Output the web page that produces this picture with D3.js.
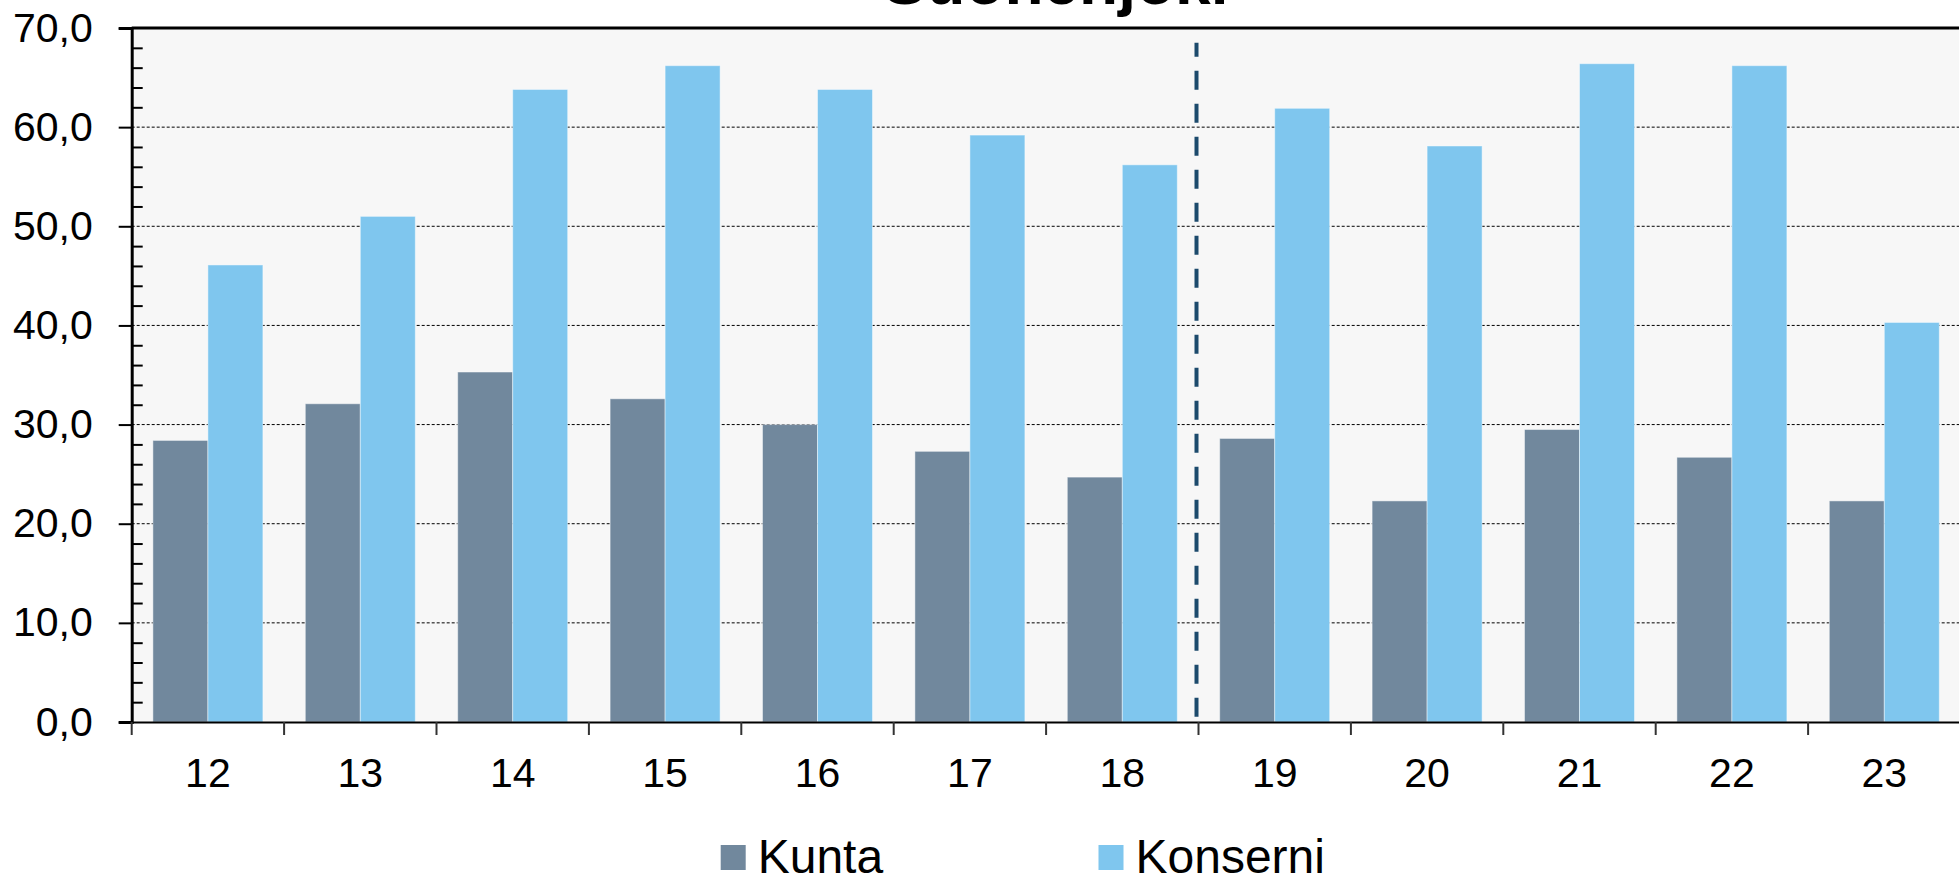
<!DOCTYPE html>
<html>
<head>
<meta charset="utf-8">
<script src="https://cdn.jsdelivr.net/npm/d3@7"></script>
<style>
  html, body { margin: 0; padding: 0; background: #ffffff; overflow: hidden; }
  svg { display: block; font-family: Arial, "Liberation Sans", sans-serif; }
</style>
</head>
<body>
<svg id="chart" width="1959" height="879"></svg>
<script>
const title = "Suonenjoki";
const categories = ["12","13","14","15","16","17","18","19","20","21","22","23"];
const seriesNames = ["Kunta", "Konserni"];
const kunta    = [28.4, 32.1, 35.3, 32.6, 30.0, 27.3, 24.7, 28.6, 22.3, 29.5, 26.7, 22.3];
const konserni = [46.1, 51.0, 63.8, 66.2, 63.8, 59.2, 56.2, 61.9, 58.1, 66.4, 66.2, 40.3];
const yTicks = [0, 10, 20, 30, 40, 50, 60, 70];
const colors = ["#71889d", "#7fc6ee"];
const dividerBefore = "19";

const svg = d3.select("#chart");
const plotLeft = 131.7, plotTop = 28, plotBottom = 722;
const band = 152.4;
const plotRight = plotLeft + band * categories.length;

const x0 = d3.scaleBand().domain(categories).range([plotLeft, plotRight]).padding(0);
const x1 = d3.scaleBand().domain(seriesNames).range([21.2, band - 21.2]).padding(0);
const y = d3.scaleLinear().domain([0, 70]).range([plotBottom, plotTop]);
const fmt = v => d3.format(".1f")(v).replace(".", ",");

// plot background
svg.append("rect").attr("x", plotLeft).attr("y", plotTop)
  .attr("width", plotRight - plotLeft).attr("height", plotBottom - plotTop).attr("fill", "#f7f7f7");

// gridlines
svg.append("g").selectAll("line").data(yTicks.filter(t => t > 0 && t < 70)).join("line")
  .attr("x1", plotLeft).attr("x2", plotRight)
  .attr("y1", d => y(d)).attr("y2", d => y(d))
  .attr("stroke", "#000").attr("stroke-width", 1).attr("stroke-dasharray", "3,2");

// bars
const rows = categories.map((c, i) => ({ cat: c, vals: [kunta[i], konserni[i]] }));
const groups = svg.append("g").selectAll("g").data(rows).join("g")
  .attr("transform", d => `translate(${x0(d.cat)},0)`);
groups.selectAll("rect").data(d => d.vals.map((v, j) => ({ key: seriesNames[j], v, j }))).join("rect")
  .attr("x", d => x1(d.key)).attr("width", x1.bandwidth())
  .attr("y", d => y(d.v)).attr("height", d => y(0) - y(d.v))
  .attr("fill", d => colors[d.j])
  .attr("stroke", "rgba(255,255,255,0.45)").attr("stroke-width", 1);

// divider dashed line
const dx = x0(dividerBefore) - 2;
svg.append("line").attr("x1", dx).attr("x2", dx)
  .attr("y1", y(68.5)).attr("y2", y(0.5))
  .attr("stroke", "#1c4a6c").attr("stroke-width", 4)
  .attr("stroke-dasharray", "19,14").attr("stroke-dashoffset", 5);

// top border
svg.append("line").attr("x1", plotLeft).attr("x2", plotRight).attr("y1", plotTop).attr("y2", plotTop)
  .attr("stroke", "#000").attr("stroke-width", 3);

// y axis major
const yAxis = svg.append("g").attr("transform", `translate(${plotLeft},0)`)
  .call(d3.axisLeft(y).tickValues(yTicks).tickSize(13).tickPadding(26).tickFormat(fmt));
yAxis.select(".domain").attr("stroke", "#000").attr("stroke-width", 3);
yAxis.selectAll(".tick line").attr("stroke", "#000").attr("stroke-width", 2);
yAxis.selectAll("text").attr("font-size", 41).attr("fill", "#000")
  .attr("font-family", "Arial, 'Liberation Sans', sans-serif");

// y axis minor (inside)
const minor = d3.range(0, 70, 2).filter(v => v % 10 !== 0);
const yMinor = svg.append("g").attr("transform", `translate(${plotLeft},0)`)
  .call(d3.axisRight(y).tickValues(minor).tickSize(11).tickFormat(""));
yMinor.select(".domain").remove();
yMinor.selectAll(".tick line").attr("stroke", "#000").attr("stroke-width", 2);

// x axis
const xAxis = svg.append("g").attr("transform", `translate(0,${plotBottom})`)
  .call(d3.axisBottom(x0).tickSize(0).tickPadding(36));
xAxis.select(".domain").attr("stroke", "#000").attr("stroke-width", 2);
xAxis.selectAll("text").attr("font-size", 41).attr("fill", "#000")
  .attr("font-family", "Arial, 'Liberation Sans', sans-serif");
// x ticks at band boundaries
const bounds = categories.map(c => x0(c));
svg.append("g").selectAll("line").data(bounds).join("line")
  .attr("x1", d => d).attr("x2", d => d).attr("y1", plotBottom).attr("y2", plotBottom + 13)
  .attr("stroke", "#333").attr("stroke-width", 2);

// title
svg.append("text").attr("x", 1056).attr("y", 4).attr("text-anchor", "middle")
  .attr("font-size", 64).attr("font-weight", "bold").attr("fill", "#000").text(title);

// legend
const legendX = [720.7, 1098.5];
const lg = svg.append("g").selectAll("g").data(seriesNames).join("g")
  .attr("transform", (d, i) => `translate(${legendX[i]},845)`);
lg.append("rect").attr("width", 25).attr("height", 25).attr("fill", (d, i) => colors[i]);
lg.append("text").attr("x", 37).attr("y", 28).attr("font-size", 48).attr("fill", "#000").text(d => d);
</script>
</body>
</html>
